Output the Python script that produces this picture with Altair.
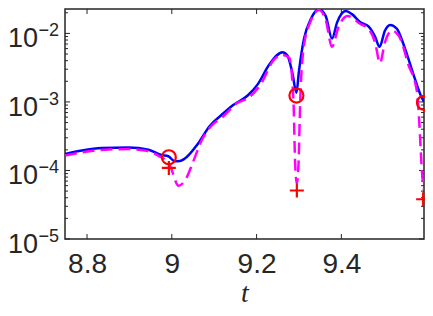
import altair as alt
import pandas as pd

# ---- data ----
blue_t = [8.748, 8.788, 8.835, 8.898, 8.945, 8.976, 8.992, 9.007, 9.019, 9.030,
          9.062, 9.089, 9.117, 9.144, 9.179, 9.203, 9.230, 9.261, 9.273, 9.285,
          9.294, 9.300, 9.312, 9.328, 9.347, 9.363, 9.378, 9.390, 9.410, 9.425,
          9.445, 9.464, 9.480, 9.490, 9.503, 9.515, 9.531, 9.550, 9.570, 9.589, 9.595]
blue_v = [1.74e-4, 1.95e-4, 2.12e-4, 2.17e-4, 2.01e-4, 1.68e-4, 1.61e-4, 1.36e-4, 1.37e-4, 1.48e-4,
          2.47e-4, 4.41e-4, 6.44e-4, 8.95e-4, 1.24e-3, 1.82e-3, 3.51e-3, 5.31e-3, 4.71e-3, 2.53e-3,
          1.36e-3, 2.82e-3, 8.41e-3, 1.62e-2, 2.26e-2, 1.80e-2, 8.41e-3, 1.45e-2, 2.12e-2, 1.91e-2,
          1.45e-2, 1.27e-2, 8.85e-3, 6.38e-3, 1.10e-2, 1.33e-2, 1.17e-2, 6.05e-3, 2.53e-3, 1.18e-3, 1.01e-3]

mag_t = [8.748, 8.788, 8.842, 8.898, 8.936, 8.968, 8.995, 9.016, 9.034, 9.050,
         9.070, 9.093, 9.121, 9.152, 9.183, 9.210, 9.241, 9.261, 9.277, 9.287,
         9.291, 9.295, 9.299, 9.303, 9.312, 9.328, 9.347, 9.363, 9.378, 9.393,
         9.414, 9.445, 9.464, 9.480, 9.491, 9.503, 9.519, 9.539, 9.558, 9.578,
         9.584, 9.590, 9.595]
mag_v = [1.65e-4, 1.84e-4, 2.01e-4, 2.05e-4, 1.95e-4, 1.65e-4, 1.20e-4, 6.0e-5, 7.67e-5, 1.32e-4,
         2.72e-4, 4.46e-4, 6.12e-4, 9.46e-4, 1.18e-3, 1.82e-3, 4.13e-3, 4.86e-3, 4.41e-3, 1.05e-3,
         1.26e-4, 6.5e-5, 1.26e-4, 1.05e-3, 6.75e-3, 1.53e-2, 2.19e-2, 1.58e-2, 6.38e-3, 1.22e-2,
         1.80e-2, 1.37e-2, 1.17e-2, 7.21e-3, 3.71e-3, 7.45e-3, 1.10e-2, 8.41e-3, 3.51e-3, 1.46e-3,
         4.9e-4, 1.0e-4, 5.2e-5]

circle_t = [8.993, 9.294, 9.595]
circle_v = [1.56e-4, 1.24e-3, 9.7e-4]
plus_t = [8.993, 9.295, 9.593]
plus_v = [1.09e-4, 5.1e-5, 3.8e-5]

x_ticks = [8.8, 9.0, 9.2, 9.4]
y_major = [1e-5, 1e-4, 1e-3, 1e-2]
y_exp = ["\u22125", "\u22124", "\u22123", "\u22122"]
y_minor = [2e-5, 3e-5, 4e-5, 5e-5, 6e-5, 7e-5, 8e-5, 9e-5,
           2e-4, 3e-4, 4e-4, 5e-4, 6e-4, 7e-4, 8e-4, 9e-4,
           2e-3, 3e-3, 4e-3, 5e-3, 6e-3, 7e-3, 8e-3, 9e-3,
           2e-2]

X_DOMAIN = [8.748, 9.595]
Y_DOMAIN = [1e-5, 0.0227]

# ---- layout ----
W, H = 359, 230
AX = "#262626"

xs = alt.Scale(domain=X_DOMAIN, nice=False, zero=False)
ys = alt.Scale(type="log", domain=Y_DOMAIN, nice=False)

xaxis = alt.Axis(values=x_ticks, format=".1~f", title="t", domain=False, ticks=False,
                 grid=False, labelFont="Liberation Sans", labelFontSize=28, labelColor=AX,
                 labelPadding=11, labelFlush=False, titleFont="Liberation Serif",
                 titleFontStyle="italic", titleFontWeight="normal", titleFontSize=28,
                 titleColor=AX, titlePadding=1)

def X():
    return alt.X("t:Q", scale=xs, axis=xaxis)

def Y():
    return alt.Y("v:Q", scale=ys, axis=None)

df_blue = pd.DataFrame({"t": blue_t, "v": blue_v})
df_mag = pd.DataFrame({"t": mag_t, "v": mag_v})
df_circ = pd.DataFrame({"t": circle_t, "v": circle_v})
df_plus = pd.DataFrame({"t": plus_t, "v": plus_v})
df_xt = pd.DataFrame({"t": x_ticks})
df_ymaj = pd.DataFrame({"v": y_major, "e": y_exp})
df_ymin = pd.DataFrame({"v": y_minor})

blue = alt.Chart(df_blue).mark_line(color="#0000ff", strokeWidth=2.5, interpolate="monotone",
                                    clip=True).encode(x=X(), y=Y())

mag = alt.Chart(df_mag).mark_line(color="#ff00ff", strokeWidth=2.5, strokeDash=[12, 6],
                                  interpolate="monotone", clip=True).encode(x=X(), y=Y())

circ = alt.Chart(df_circ).mark_point(shape="circle", size=196, filled=False, color="#ff0000",
                                     strokeWidth=2.2, opacity=1).encode(x=X(), y=Y())

plus = alt.Chart(df_plus).mark_point(shape="M-1,0L1,0M0,-1L0,1", size=196, filled=False,
                                     color="#ff0000", strokeWidth=2.2, opacity=1).encode(x=X(), y=Y())

def yticks(df, x0, x1):
    return alt.Chart(df).mark_rule(color=AX, strokeWidth=1).encode(
        y=Y(), x=alt.value(x0), x2=alt.value(x1))

def xticks(y0, y1):
    return alt.Chart(df_xt).mark_rule(color=AX, strokeWidth=1).encode(
        x=X(), y=alt.value(y0), y2=alt.value(y1))

ticks = [xticks(H - 5, H), xticks(0, 5),
         yticks(df_ymaj, 0, 5), yticks(df_ymaj, W - 5, W),
         yticks(df_ymin, 0, 3), yticks(df_ymin, W - 3, W)]

lab10 = alt.Chart(df_ymaj).mark_text(align="right", baseline="alphabetic", font="Liberation Sans",
                                     fontSize=27, color=AX, dy=14).encode(
    y=Y(), x=alt.value(-27), text=alt.value("10"))

labexp = alt.Chart(df_ymaj).mark_text(align="right", baseline="alphabetic", font="Liberation Sans",
                                      fontSize=18, color=AX, dy=3).encode(
    y=Y(), x=alt.value(-6), text="e:N")

chart = alt.layer(*ticks, blue, mag, circ, plus, lab10, labexp).properties(
    width=W, height=H,
    padding={"left": 57, "top": 1, "right": 1, "bottom": 69},
    autosize=alt.AutoSizeParams(type="none"),
    background="white",
).configure_view(stroke=AX, strokeWidth=1.5)

chart.save("out.html", embed_options={"renderer": "svg", "actions": False})
